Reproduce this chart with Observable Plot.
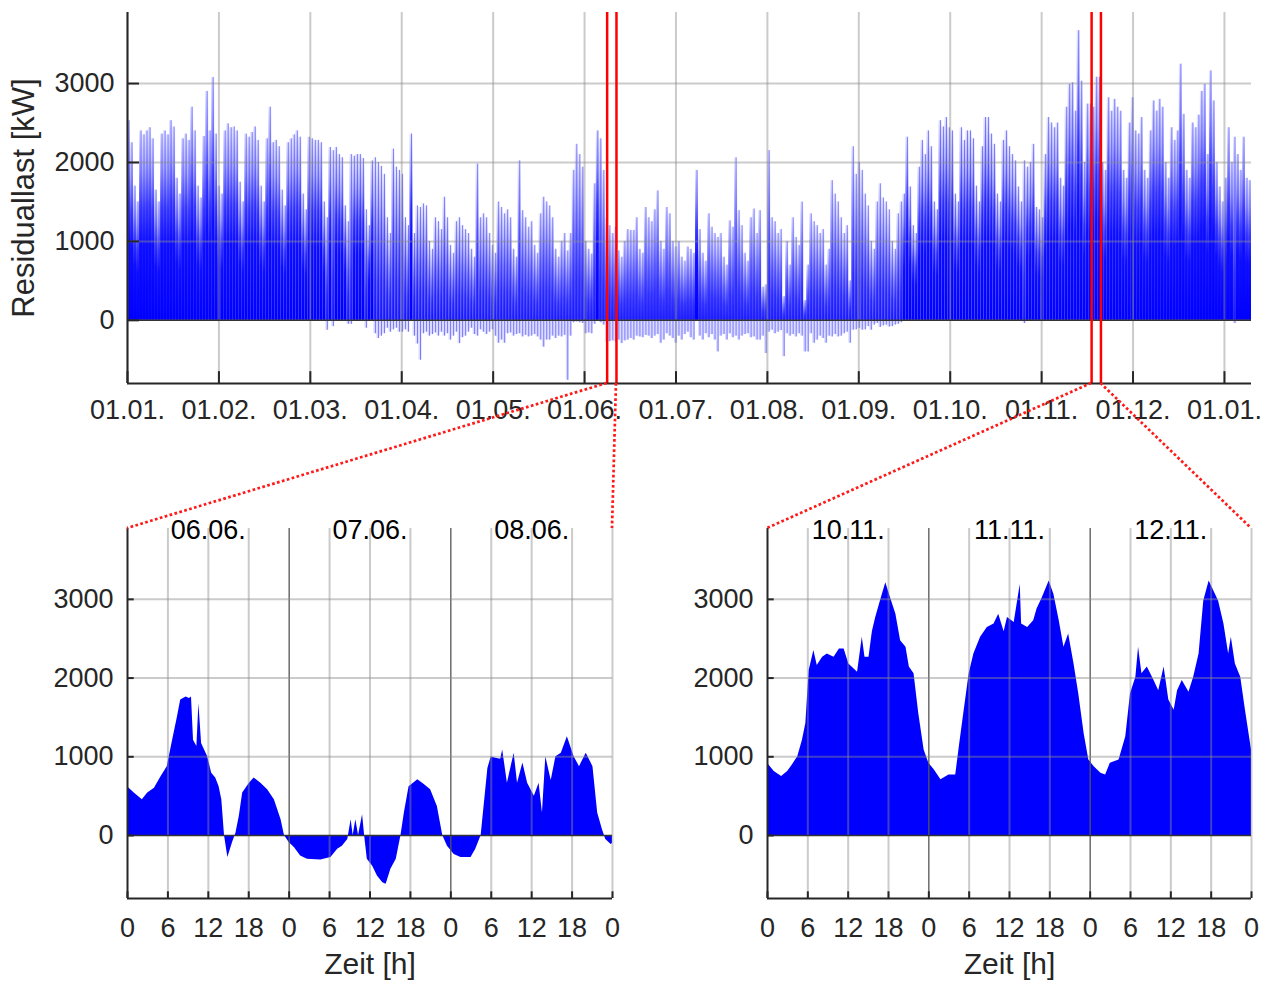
<!DOCTYPE html>
<html>
<head>
<meta charset="utf-8">
<script src="https://cdn.jsdelivr.net/npm/d3@7"></script>
<script src="https://cdn.jsdelivr.net/npm/@observablehq/plot@0.6"></script>
<style>
  body { margin: 0; background: #fff; }
  #chart { position: relative; width: 1271px; height: 982px; font-family: 'Liberation Sans', Arial, Helvetica, sans-serif; }
  #chart svg { position: absolute; overflow: visible; }
</style>
</head>
<body>
<div id="chart"></div>
<script>
// ---------------- DATA ----------------
// Top panel: one value per day (day 0 = 01.01.), daily maximum residual load [kW]
const dayPeak = [
  2530,2250,1700,1500,2400,2350,2400,
  2440,2300,1650,1500,2360,2400,2350,
  2530,2450,1800,1600,2300,2360,2280,
  2700,2400,1700,1550,2330,2900,2400,
  3075,2360,1700,1600,2400,2490,2440,
  2450,2400,1750,1500,2360,2320,2380,
  2450,2280,1700,1500,2300,2700,2250,
  2280,2200,1650,1450,2250,2300,2350,
  2400,2320,1600,1400,2320,2300,2280,
  2280,2250,1500,1300,2190,2150,2190,
  2100,2060,1450,1250,2100,2080,2100,
  2100,2050,1400,1200,2020,2060,2000,
  1950,1850,1300,1100,2170,1940,1900,
  1850,1300,1200,2360,1100,1450,1430,
  1475,1450,1000,900,1300,1250,1150,
  1560,1300,950,850,1250,1300,1200,
  1150,1100,900,800,1980,1300,1350,
  1300,1100,950,850,1500,1430,1350,
  1400,1300,900,800,2020,1390,1300,
  1180,1250,950,850,1350,1560,1500,
  1450,1300,900,800,1000,1100,880,
  1100,1900,2230,2100,1940,1000,900,
  840,1730,2400,2300,1900,1300,1200,
  1100,1180,880,800,1000,1150,1140,
  1140,1300,900,850,1430,1300,1250,
  1400,1640,1000,900,1430,1350,1000,
  930,1000,800,750,930,900,850,
  1900,1150,850,750,1350,1180,1100,
  1050,1100,800,700,1260,1180,2060,
  1390,1200,850,750,1300,1410,1100,
  1390,420,450,2150,1300,1250,1100,
  1150,300,1000,700,1300,1050,950,
  1500,250,700,1350,1250,1200,1100,
  1150,700,900,1770,1600,1500,1300,
  1100,1200,500,2200,1850,2000,1900,
  1600,1450,1000,900,1500,1730,1550,
  1500,1400,1000,900,1350,1500,1600,
  2320,1690,1200,1100,1940,2280,2100,
  2400,2200,1500,1400,2530,2450,2570,
  2440,2400,1600,1500,2440,2280,2400,
  2400,2300,1700,1500,2200,2570,2570,
  2360,2230,1600,1500,2280,2400,2200,
  2100,2020,1690,1500,2020,1940,2000,
  2230,1430,1400,1300,2100,2570,2500,
  2440,2500,1800,1700,2700,2990,3010,
  2650,3670,3030,2000,2740,2740,2700,
  3080,3080,2000,1900,2820,2650,2800,
  2700,2650,1900,1800,2500,2820,2400,
  2360,2570,1900,1800,2400,2780,2650,
  2800,2700,2000,1800,2440,2280,2400,
  3245,2610,1900,1800,2500,2440,2600,
  2900,2990,2100,3160,2780,2000,1690,
  1500,1800,2440,2000,2320,2100,1900,
  2320,1800,1770
];
// Top panel: daily minimum (negative residual load) [kW], 0 = no negative values
const dayMin = [
  0,0,0,0,0,0,0,
  0,0,0,0,0,0,0,
  0,0,0,0,0,0,0,
  0,0,0,0,0,0,0,
  0,0,0,0,0,0,0,
  0,0,0,0,0,0,0,
  0,0,0,0,0,0,0,
  0,0,0,0,0,0,0,
  0,0,0,0,0,0,0,
  0,0,0,-125,0,-80,0,
  0,0,0,-50,-50,0,0,
  0,0,-100,0,0,-170,-230,
  -200,-170,-100,-150,-120,-100,-150,
  -150,-120,-150,0,-200,-300,-505,
  -170,-150,-200,-180,-160,-200,-150,
  -200,-170,-250,-200,-150,-295,-220,
  -200,-150,-100,-180,-200,-120,-150,
  -180,-150,-120,-200,-290,-250,-290,
  -170,-160,-200,-180,-170,-210,-190,
  -210,-200,-180,-210,-250,-340,-250,
  -250,-200,-230,-200,-210,-190,-760,
  -200,-30,-20,-30,-40,-170,-160,
  -170,-50,0,-30,-60,-275,-270,
  -260,-275,-250,-295,-260,-250,-230,
  -250,-200,-210,-220,-190,-200,-230,
  -200,-180,-290,-250,-170,-200,-230,
  -290,-200,-250,-180,-150,-220,-250,
  0,-200,-250,-170,-220,-180,-250,
  -400,-200,-180,-250,-170,-220,-200,
  -250,-200,-180,-170,-220,-210,-250,
  -250,-200,-420,-150,-125,-170,-150,
  -130,-460,-170,-200,-180,-210,-170,
  -200,-400,-400,-170,-290,-250,-200,
  -230,-290,-200,-210,-180,-210,-200,
  -170,-150,-290,-125,-120,-100,-125,
  -120,-80,-125,-60,-40,-90,-70,
  -60,-85,-80,-60,-50,-30,0,
  0,0,0,0,0,0,0,
  0,0,0,0,0,0,0,
  0,0,0,0,0,0,0,
  0,0,0,0,0,0,0,
  0,0,0,0,0,0,0,
  0,0,0,0,-40,0,0,
  0,0,0,0,0,0,0,
  0,0,0,0,0,0,0,
  0,0,0,0,0,0,0,
  0,0,0,0,0,0,0,
  0,0,0,0,0,0,0,
  0,0,0,0,0,0,0,
  0,0,0,0,0,0,0,
  0,0,0,0,0,0,0,
  0,0,0,0,0,0,0,
  0,0,0,0,-40,0,0,
  0,0,0
];
// Top axis ticks (days) and labels
const yearTicks = [0, 30.42, 60.83, 91.25, 121.67, 152.08, 182.5, 212.92, 243.33, 273.75, 304.17, 334.58, 365];
const yearTickLabels = ["01.01.","01.02.","01.03.","01.04.","01.05.","01.06.","01.07.","01.08.","01.09.","01.10.","01.11.","01.12.","01.01."];
// Highlighted windows in the top panel (days)
const juneWindow = [159.6, 162.7];
const novWindow = [320.8, 323.9];

// Bottom left: 06.06. - 08.06.
const junHours = [0,1,2.2,3,4,5,5.9,6.7,7.4,7.9,8.7,9.2,9.5,9.8,10.3,10.6,11,11.9,12.5,13.1,13.6,14,14.4,14.9,15.6,16.1,16.6,17.1,18.1,18.8,19.8,20.8,21.8,22.8,23.3,24,24.8,25.7,26.7,28.7,30.2,31.2,31.9,32.7,33.2,33.5,33.9,34.3,34.9,35.2,35.6,36.4,37.1,37.9,38.4,39.1,39.9,40.6,41.1,41.8,43.1,44.1,45,46,46.8,47.5,48.5,49.5,51,51.7,52.5,53.5,54,54.7,55.4,55.7,56.4,57.4,57.9,58.7,59.4,60.4,61.1,61.6,62.1,62.9,63.6,64.4,65.3,66.3,67.1,68.1,69.1,69.8,70.5,71,71.8,72];
const junKW = [620,540,455,540,600,750,875,1210,1500,1720,1760,1740,1760,1210,1130,1675,1170,1000,790,730,620,455,0,-280,-90,30,245,540,665,730,665,580,455,200,0,-90,-155,-260,-300,-310,-280,-175,-135,-50,200,0,200,0,265,0,-300,-390,-515,-600,-620,-430,-300,0,285,620,707,645,580,370,0,-135,-240,-280,-280,-175,0,850,1000,980,970,1085,665,1045,665,920,665,500,665,285,1000,700,1000,1045,1255,1000,875,1045,875,285,75,-50,-115,-100];
const junDays = ["06.06.","07.06.","08.06."];

// Bottom right: 10.11. - 12.11.
const novHours = [0,1,2.1,3,3.7,4.5,5.2,5.7,6.2,6.9,7.4,8.2,8.9,9.9,10.7,11.4,12.1,13.4,14.1,14.5,15.1,15.6,16.1,16.8,17.6,18.3,19.1,19.8,20.6,21.1,21.8,22.5,23.3,24,24.8,25.8,27,28,28.6,29.2,30,30.7,31.7,32.7,33.7,34.4,35.2,35.7,36.7,37.6,37.8,38.7,39.6,40.1,40.9,41.9,42.6,43.4,44.1,44.8,45.6,46.3,47.1,47.8,48.6,49.6,50.3,51,52.3,53.3,54,54.8,55.2,55.7,56.5,57.5,58.2,59,59.7,60.5,61,61.7,62.7,63.4,64.2,64.9,65.7,66.4,67.1,67.9,68.6,69,69.6,70.4,71.1,72];
const novKW = [918,813,750,813,897,1000,1210,1420,2097,2350,2160,2265,2307,2265,2370,2370,2180,2075,2520,2265,2265,2590,2770,2980,3210,3020,2810,2475,2390,2140,2055,1550,1086,918,835,707,770,770,1170,1550,2055,2307,2520,2644,2686,2810,2590,2770,2707,3190,2686,2644,2728,2876,3023,3234,3065,2728,2390,2560,2180,1800,1297,960,875,790,770,918,960,1255,1800,2010,2390,2055,2140,1970,1840,2140,1720,1590,1840,1970,1820,2010,2307,2980,3234,3105,2980,2686,2307,2520,2180,2010,1590,1086];
const novDays = ["10.11.","11.11.","12.11."];

const kwTicks = [0, 1000, 2000, 3000];
const kwGrid = [1000, 2000, 3000];
const hourTicks = [0,6,12,18,24,30,36,42,48,54,60,66,72];
const hourGrid = [6,12,18,30,36,42,54,60,66,72];
const dayBounds = [24, 48];
const dayMid = [12, 36, 60];
const yDomain = [-800, 3900];

// ---------------- STYLE ----------------
const FONT = "'Liberation Sans', Arial, Helvetica, sans-serif";
const BLUE = "#0000ff";
const TXT = "#262626";
const gridStyle = {stroke: "#8c8c8c", strokeOpacity: 0.45, strokeWidth: 2};
const axisStyle = {stroke: TXT, strokeWidth: 2};
const zeroStyle = {stroke: "#333", strokeWidth: 1.5};
const baseStyle = {fontFamily: FONT, fontSize: "27px", color: TXT, background: "white"};

const chart = d3.select("#chart");

// gradients used for the daily bars of the yearly overview
const defs = chart.append("svg").attr("width", 0).attr("height", 0).style("left", 0).style("top", 0).append("defs");
function gradient(id, stops) {
  const g = defs.append("linearGradient").attr("id", id).attr("x1", 0).attr("y1", 0).attr("x2", 0).attr("y2", 1);
  stops.forEach(([o, a]) => g.append("stop").attr("offset", o).attr("stop-color", BLUE).attr("stop-opacity", a));
}
gradient("dayGrad", [[0, 0.1], [0.2, 0.35], [0.4, 0.72], [0.6, 0.93], [1, 1]]);
gradient("dayGradPV", [[0, 0.08], [0.25, 0.3], [0.5, 0.55], [0.75, 0.75], [1, 0.85]]);

const days = dayPeak.map((p, i) => ({d: i, peak: p, min: dayMin[i]}));
const plainDays = days.filter(d => d.min >= 0);
const pvDays = days.filter(d => d.min < 0);

// ---------------- TOP PANEL ----------------
const topPlot = Plot.plot({
  width: 1271, height: 440,
  marginLeft: 127, marginRight: 20, marginTop: 12, marginBottom: 57,
  style: baseStyle,
  x: {domain: [0, 374], axis: null},
  y: {domain: yDomain, axis: null},
  marks: [
    Plot.rect(plainDays, {x1: "d", x2: d => d.d + 1, y1: 0, y2: "peak", fill: "url(#dayGrad)"}),
    Plot.rect(pvDays, {x1: "d", x2: d => d.d + 1, y1: 0, y2: "peak", fill: "url(#dayGradPV)"}),
    Plot.rect(pvDays, {x1: "d", x2: d => d.d + 1, y1: "min", y2: 0, fill: BLUE, fillOpacity: 0.14}),
    Plot.ruleX(days, {x: d => d.d + 0.5, y1: d => Math.min(d.min, 0), y2: "peak", stroke: BLUE, strokeOpacity: 0.45, strokeWidth: 1}),
    Plot.ruleX(yearTicks, gridStyle),
    Plot.ruleY(kwGrid, gridStyle),
    Plot.ruleY([0], zeroStyle),
    Plot.ruleX([...juneWindow, ...novWindow], {stroke: "#ff0000", strokeWidth: 2.5}),
    Plot.ruleX([0], axisStyle),
    Plot.ruleY([yDomain[0]], axisStyle),
    Plot.ruleX(yearTicks, {y1: yDomain[0], y2: yDomain[0] + 150, ...axisStyle}),
    Plot.ruleY(kwTicks, {x1: 0, x2: 4, ...axisStyle}),
    Plot.axisX({ticks: yearTicks, tickFormat: d => yearTickLabels[yearTicks.indexOf(d)], tickSize: 0, tickPadding: 16, label: null, fontSize: 27, fill: TXT}),
    Plot.axisY({ticks: kwTicks, tickFormat: d => String(d), tickSize: 0, tickPadding: 13, label: null, fontSize: 27, fill: TXT}),
    Plot.text(["Residuallast [kW]"], {frameAnchor: "left", textAnchor: "middle", lineAnchor: "middle", dx: -103, rotate: -90, fontSize: 31, fill: TXT})
  ]
});

// ---------------- BOTTOM PANELS ----------------
function dayPlot(hours, kw, labels, width, marginRight) {
  const data = hours.map((h, i) => ({h, kw: kw[i]}));
  return Plot.plot({
    width, height: 542,
    marginLeft: 127, marginRight, marginTop: 88, marginBottom: 84,
    style: baseStyle,
    x: {domain: [0, 72], axis: null},
    y: {domain: yDomain, axis: null},
    marks: [
      Plot.areaY(data, {x: "h", y: "kw", fill: BLUE}),
      Plot.ruleX(hourGrid, gridStyle),
      Plot.ruleX(dayBounds, {stroke: "#555", strokeWidth: 1.3}),
      Plot.ruleY(kwGrid, gridStyle),
      Plot.ruleY([0], zeroStyle),
      Plot.ruleX([0], axisStyle),
      Plot.ruleY([yDomain[0]], axisStyle),
      Plot.ruleX(hourTicks, {y1: yDomain[0], y2: yDomain[0] + 85, ...axisStyle}),
      Plot.ruleY(kwTicks, {x1: 0, x2: 1, ...axisStyle}),
      Plot.axisX({ticks: hourTicks, tickFormat: d => String(d % 24), tickSize: 0, tickPadding: 19, label: null, fontSize: 27, fill: TXT}),
      Plot.axisY({ticks: kwTicks, tickFormat: d => String(d), tickSize: 0, tickPadding: 14, label: null, fontSize: 27, fill: TXT}),
      Plot.text(labels, {x: dayMid, frameAnchor: "top", lineAnchor: "middle", dy: 2, fontSize: 27, fill: "#000"}),
      Plot.text(["Zeit [h]"], {frameAnchor: "bottom", lineAnchor: "middle", dy: 66, fontSize: 30, fill: TXT})
    ]
  });
}

const leftPlot = dayPlot(junHours, junKW, junDays, 640, 28);
const rightPlot = dayPlot(novHours, novKW, novDays, 631, 20);

const layout = {top: [0, 0], left: [0, 440], right: [640, 440]};
function place(svg, [x, y]) {
  svg.style.left = x + "px";
  svg.style.top = y + "px";
  chart.node().appendChild(svg);
}
place(topPlot, layout.top);
place(leftPlot, layout.left);
place(rightPlot, layout.right);

// ---------------- ZOOM CONNECTORS ----------------
const tx = topPlot.scale("x"), ty = topPlot.scale("y");
const lx = leftPlot.scale("x"), ly = leftPlot.scale("y");
const rx = rightPlot.scale("x"), ry = rightPlot.scale("y");
const yFrom = layout.top[1] + ty.apply(yDomain[0]);
const links = [
  [tx.apply(juneWindow[0]), layout.left[0] + lx.apply(0), layout.left[1] + ly.apply(yDomain[1])],
  [tx.apply(juneWindow[1]), layout.left[0] + lx.apply(72), layout.left[1] + ly.apply(yDomain[1])],
  [tx.apply(novWindow[0]), layout.right[0] + rx.apply(0), layout.right[1] + ry.apply(yDomain[1])],
  [tx.apply(novWindow[1]), layout.right[0] + rx.apply(72), layout.right[1] + ry.apply(yDomain[1])]
];
const overlay = chart.append("svg").attr("width", 1271).attr("height", 982)
  .style("left", 0).style("top", 0).style("pointer-events", "none");
overlay.selectAll("line").data(links).join("line")
  .attr("x1", d => d[0] + layout.top[0]).attr("y1", yFrom)
  .attr("x2", d => d[1]).attr("y2", d => d[2])
  .attr("stroke", "#ff1a1a").attr("stroke-width", 2.7)
  .attr("stroke-dasharray", "2.7 2.4");
</script>
</body>
</html>
